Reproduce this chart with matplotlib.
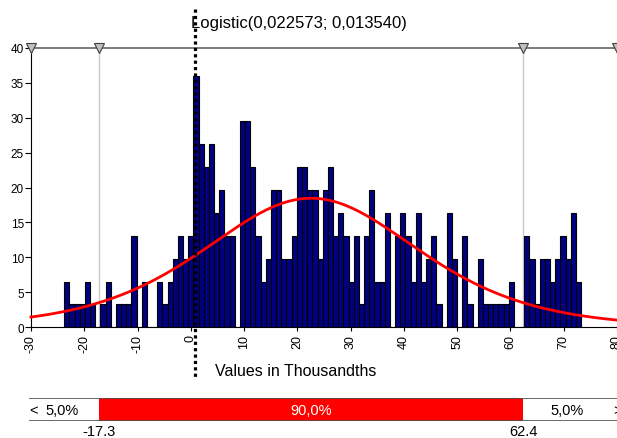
import numpy as np
from matplotlib import pyplot as plt

plt.rcParams['font.family'] = ['Liberation Sans', 'DejaVu Sans']

# fitted distribution (values in thousandths)
FIT_TITLE = 'Logistic(0,022573; 0,013540)'
FIT_ALPHA = 22.573
FIT_BETA = 13.540

# histogram: 100 bins starting at -23.75, width 0.97
BIN_START = -23.75
BIN_WIDTH = 0.97
counts = [2, 1, 1, 1, 2, 1, 0, 1, 2, 0, 1, 1, 1, 4,
          0, 2, 0, 0, 2, 1, 2, 3, 4, 3, 4, 11, 8, 7, 8, 5, 6, 4, 4,
          0, 9, 9, 7, 4, 2, 3, 6, 6, 3, 3, 4, 7, 7, 6, 6, 3, 6, 7, 4,
          5, 4, 2, 4, 1, 4, 6, 2, 2, 5, 0, 4, 5, 4, 2, 5, 2, 3, 4,
          1, 0, 5, 3, 0, 4, 1, 0, 3, 1, 1, 1, 1, 1, 2, 0, 0,
          4, 3, 1, 3, 3, 2, 3, 4, 3, 5, 2]

# delimiters and probabilities
left_delim = -17.3
right_delim = 62.4
band_labels = ['5,0%', '90,0%', '5,0%']
marker_value = 0.75

x_ticks = list(range(-30, 81, 10))
y_ticks = list(range(0, 41, 5))

W, H = 617, 439


def fx(px):
    return px / W


def fy(py):
    return 1 - py / H


counts = np.array(counts)
density = counts / (counts.sum() * BIN_WIDTH * 1e-3)
lefts = BIN_START + BIN_WIDTH * np.arange(len(counts))

fig = plt.figure(figsize=(W / 100, H / 100), dpi=100)
ax = fig.add_axes([fx(31), fy(328.3), fx(617 - 31), (328.3 - 48.7) / H])
ax.set_xlim(-30, 80)
ax.set_ylim(0, 40)

for v in (left_delim, right_delim):
    ax.plot([v, v], [0, 40], color='#c8c8c8', lw=1, zorder=1)

ax.bar(lefts, density, width=BIN_WIDTH, align='edge', color='#000080',
       edgecolor='black', linewidth=0.8, zorder=2)

xs = np.linspace(-30, 80, 400)
z = np.exp(-(xs - FIT_ALPHA) / FIT_BETA)
pdf = z / (FIT_BETA * 1e-3 * (1 + z) ** 2)
ax.plot(xs, pdf, color='#ff0000', lw=2, zorder=3, clip_on=False)

ax.spines['right'].set_visible(False)
ax.spines['top'].set_color('#707070')
ax.spines['top'].set_linewidth(1.3)
ax.set_xticks(x_ticks)
ax.set_xticklabels([str(t) for t in x_ticks], rotation=90, fontsize=9)
ax.set_yticks(y_ticks)
ax.set_yticklabels([str(t) for t in y_ticks], fontsize=8.5)
ax.tick_params(axis='x', direction='out', length=3, pad=2)
ax.tick_params(axis='y', direction='out', length=4, pad=1)

ax.plot([-30, left_delim, right_delim, 80], [40] * 4, linestyle='none', marker='v',
        markersize=7, markerfacecolor='#c0c0c0', markeredgecolor='#404040',
        markeredgewidth=0.8, clip_on=False, zorder=5)

ax.plot([marker_value, marker_value], [1.138 * 40, -0.178 * 40], color='black',
        lw=2.3, linestyle=(0, (1, 1)), clip_on=False, zorder=6)

fig.text(fx(191), fy(27.7), FIT_TITLE, ha='left', va='baseline', fontsize=12)
fig.text(fx(296), fy(371), 'Values in Thousandths', ha='center', va='center', fontsize=11.5)

# probability band
bax = fig.add_axes([fx(29), fy(422.3), fx(617 - 29), 23 / H])
bax.set_xlim(-30 - 2 / 5.325, 80)
bax.set_ylim(0, 1)
bax.axis('off')
bax.axvspan(left_delim, right_delim, color='#ff0000', lw=0)
bax.axhline(1, color='#505050', lw=1.2)
bax.axhline(0, color='#505050', lw=1.2)
bax.text(-29.6, 0.5, '<', ha='center', va='center', fontsize=10.5)
bax.text(-24.1, 0.5, band_labels[0], ha='center', va='center', fontsize=10.5)
bax.text((left_delim + right_delim) / 2, 0.5, band_labels[1], ha='center', va='center',
         fontsize=10.5, color='white')
bax.text(70.7, 0.5, band_labels[2], ha='center', va='center', fontsize=10.5)
bax.text(79.3, 0.5, '>', ha='left', va='center', fontsize=10.5, clip_on=False)
bax.text(left_delim, -0.42, '{:.1f}'.format(left_delim), ha='center', va='center', fontsize=10.5)
bax.text(right_delim, -0.42, '{:.1f}'.format(right_delim), ha='center', va='center', fontsize=10.5)

fig.savefig('out.png', dpi=100)
